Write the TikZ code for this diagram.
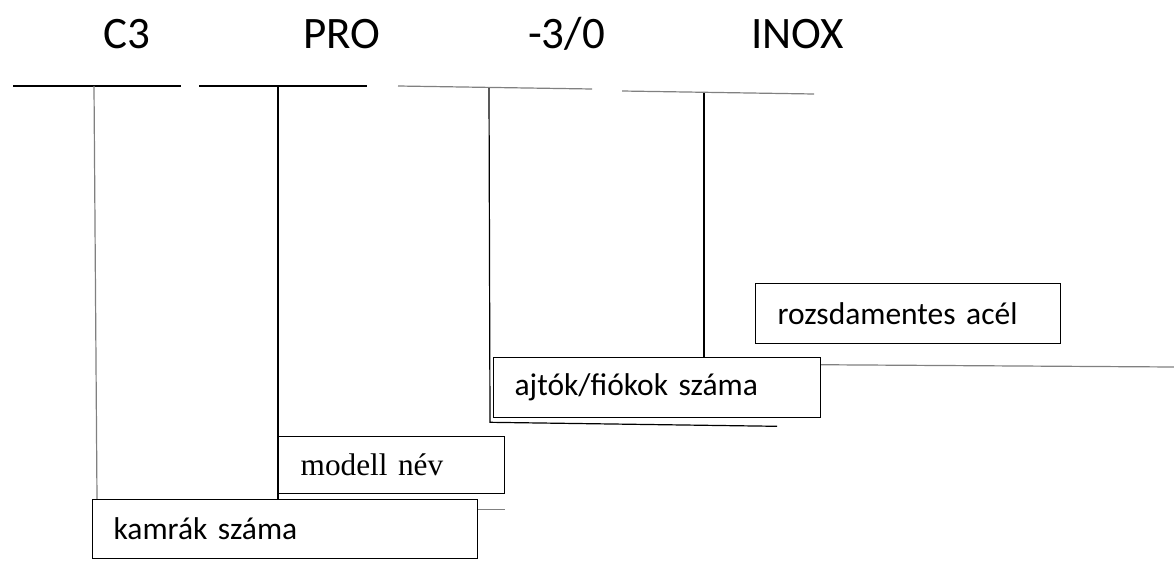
\documentclass[tikz,border=0pt]{standalone}
\usepackage{fontspec}
\setmainfont{Carlito}
\newfontfamily\nevfont{Liberation Serif}
\usetikzlibrary{positioning,backgrounds}

\tikzstyle{kod} = [anchor=base west, inner sep=0pt, font=\fontsize{45}{54}\selectfont]
\tikzstyle{cimke} = [draw, fill=white, anchor=north west, align=left, inner ysep=0pt, line width=1.3pt, font=\fontsize{31.5}{36}\selectfont]
\tikzstyle{vonal} = [line width=1.2pt, black]
\tikzstyle{halvany} = [line width=1.2pt, black!50]

\begin{document}
\begin{tikzpicture}[x=1pt, y=-1pt]
        \useasboundingbox (0,0) rectangle (1174,560);
        % Code parts on top
        \node (tC3) at (103,48) [kod] {C3};
        \node (tPro) at (303,48) [kod] {PRO};
        \node (tAjto) at (528,48) [kod] {-3/0};
        \node (tInox) at (751,48) [kod] {INOX};

        % Bracket ends under the code parts
        \coordinate (a1) at (13,86);   \coordinate (b1) at (181,86);  \coordinate (v1) at (94,86);
        \coordinate (a2) at (199,86);  \coordinate (b2) at (367,86);  \coordinate (v2) at (278,86);
        \coordinate (a3) at (398,86);  \coordinate (b3) at (592,89);  \coordinate (v3) at (489,88);
        \coordinate (a4) at (622,91);  \coordinate (b4) at (814,94);  \coordinate (v4) at (704,93);
        \coordinate (jobb) at (1174,367);

        % Label boxes
        \node (kamrak) at (92,499) [cimke, minimum height=59pt, text width=343pt, inner xsep=21pt] {kamrák száma};
        \node (modell) at (278,436) [cimke, minimum height=57pt, text width=182pt, inner xsep=22pt, font=\fontsize{31.3}{36}\nevfont] {modell név};
        \node (ajtok) at (493,357) [cimke, minimum height=60pt, text width=285pt, inner xsep=21pt] {ajtók/fiókok száma};
        \node (rozsda) at (755,283) [cimke, minimum height=60pt, text width=261pt, inner xsep=22pt] {rozsdamentes acél};

        \begin{scope}[on background layer]
            \draw[vonal] (a1) -- (b1);
            \draw[vonal] (a2) -- (b2);
            \draw[halvany] (a3) -- (b3);
            \draw[halvany] (a4) -- (b4);
            % Connectors down to the boxes
            \draw[halvany] (v1) -- ([xshift=5pt]kamrak.north west);
            \draw[vonal] (v2) -- (v2 |- kamrak.north);
            \draw[halvany] ([yshift=-15pt]modell.south west) -- ([yshift=-15pt]modell.south east);
            \draw[vonal] (v3) -- ([xshift=-3pt,yshift=-4pt]ajtok.south west) -- ([xshift=284pt,yshift=-8pt]ajtok.south west);
            \draw[vonal] (v4) -- (v4 |- ajtok.north);
            \draw[halvany] ([yshift=-20pt]rozsda.south west) -- (jobb);
        \end{scope}
    \end{tikzpicture}
\end{document}
